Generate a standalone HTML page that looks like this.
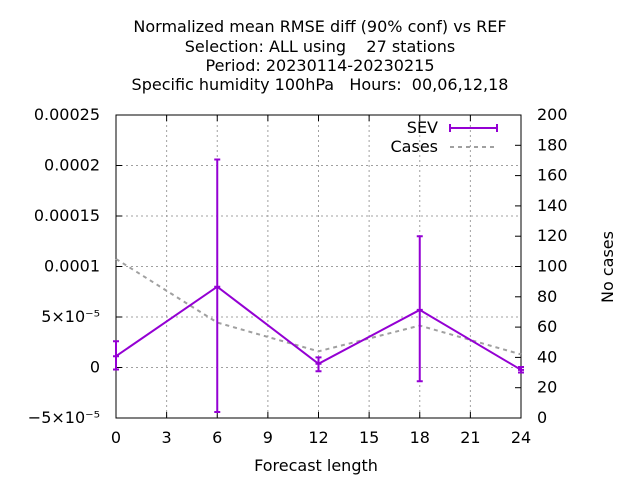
<!DOCTYPE html>
<html><head><meta charset="utf-8"><style>
body{margin:0;background:#fff}
svg{display:block;font-family:"DejaVu Sans","Liberation Sans",sans-serif;font-size:16px}
</style></head><body>
<svg id="c" width="640" height="480">
<g id="title" text-anchor="middle" fill="#000">
<text x="320" y="32">Normalized mean RMSE diff (90% conf) vs REF</text>
<text x="320" y="52" xml:space="preserve">Selection: ALL using    27 stations</text>
<text x="320" y="71">Period: 20230114-20230215</text>
<text x="320" y="90" xml:space="preserve">Specific humidity 100hPa   Hours:  00,06,12,18</text>
</g>
<g id="grid"></g>
<g id="axes"></g>
<g id="series"></g>
<text x="316" y="471" text-anchor="middle">Forecast length</text>
<text transform="translate(613,267) rotate(-90)" text-anchor="middle">No cases</text>
<g>
<text x="438" y="133" text-anchor="end">SEV</text>
<line x1="450" y1="128" x2="497" y2="128" stroke="#9400d3" stroke-width="2"/>
<line x1="450" y1="124" x2="450" y2="132" stroke="#9400d3" stroke-width="2"/>
<line x1="497" y1="124" x2="497" y2="132" stroke="#9400d3" stroke-width="2"/>
<text x="438" y="152" text-anchor="end">Cases</text>
<line x1="450" y1="147" x2="497" y2="147" stroke="#a0a0a0" stroke-width="2" stroke-dasharray="4,4"/>
</g>
</svg>
<script>
const xTicks=[0,3,6,9,12,15,18,21,24];
const yTicks=[-0.00005,0,0.00005,0.0001,0.00015,0.0002,0.00025];
const yTickLabels=["\u22125\u00d710\u207b\u2075","0","5\u00d710\u207b\u2075","0.0001","0.00015","0.0002","0.00025"];
const y2Ticks=[0,20,40,60,80,100,120,140,160,180,200];
const sevX=[0,6,12,18,24];
const sevY=[0.0000112,0.00008,0.0000037,0.000057,-0.0000023];
const sevLo=[-0.000002,-0.000044,-0.0000037,-0.0000136,-0.000005];
const sevHi=[0.000026,0.000206,0.00001,0.00013,0.0000005];
const casesX=[0,6,12,18,24];
const casesY=[105,63,44,61,42];

const L=116,R=521,T=115,B=418;
const X=v=>L+(v-0)/24*(R-L);
const Y=v=>B-(v+0.00005)/0.0003*(B-T);
const Y2=v=>B-v/200*(B-T);
const NS="http://www.w3.org/2000/svg";
function mk(p,tag,a){const e=document.createElementNS(NS,tag);for(const k in a)e.setAttribute(k,a[k]);p.appendChild(e);return e;}
const g=document.getElementById('grid'),ax=document.getElementById('axes'),s=document.getElementById('series');
xTicks.forEach(v=>{
 if(v>0&&v<24){const l=mk(g,'line',{x1:X(v),x2:X(v),y1:T,y2:B,stroke:'#a0a0a0','stroke-dasharray':'2,3'});
 
 }
 mk(ax,'line',{x1:X(v),x2:X(v),y1:B,y2:B-6,stroke:'#000'});
 mk(ax,'line',{x1:X(v),x2:X(v),y1:T,y2:T+6,stroke:'#000'});
 const t=mk(ax,'text',{x:X(v),y:B+25,'text-anchor':'middle'});t.textContent=v;
 
 
});
yTicks.forEach((v,i)=>{
 if(i>0&&i<yTicks.length-1){const l=mk(g,'line',{x1:L,x2:R,y1:Y(v),y2:Y(v),stroke:'#a0a0a0','stroke-dasharray':'2,3'});
 
 }
 mk(ax,'line',{x1:L,x2:L+6,y1:Y(v),y2:Y(v),stroke:'#000'});
 const t=mk(ax,'text',{x:L-16,y:Y(v)+5,'text-anchor':'end'});t.textContent=yTickLabels[i];
 
 
});
y2Ticks.forEach(v=>{
 mk(ax,'line',{x1:R,x2:R-6,y1:Y2(v),y2:Y2(v),stroke:'#000'});
 const t=mk(ax,'text',{x:R+16,y:Y2(v)+5,'text-anchor':'start'});t.textContent=v;
 
 
});
const fr=mk(ax,'rect',{x:L,y:T,width:R-L,height:B-T,fill:'none',stroke:'#000'});


const cl=mk(s,'polyline',{points:casesX.map((v,i)=>X(v)+','+Y2(casesY[i])).join(' '),fill:'none',stroke:'#a0a0a0','stroke-width':2,'stroke-dasharray':'4,4'});


const sl=mk(s,'polyline',{points:sevX.map((v,i)=>X(v)+','+Y(sevY[i])).join(' '),fill:'none',stroke:'#9400d3','stroke-width':2});


sevX.forEach((v,i)=>{
 const x=X(v);
 const eb=mk(s,'path',{d:`M${x},${Y(sevLo[i])}V${Y(sevHi[i])}M${x-3},${Y(sevLo[i])}h6M${x-3},${Y(sevHi[i])}h6M${x-3},${Y(sevY[i])}h6`,stroke:'#9400d3','stroke-width':2,fill:'none'});
 
 
});
</script>
</body></html>
